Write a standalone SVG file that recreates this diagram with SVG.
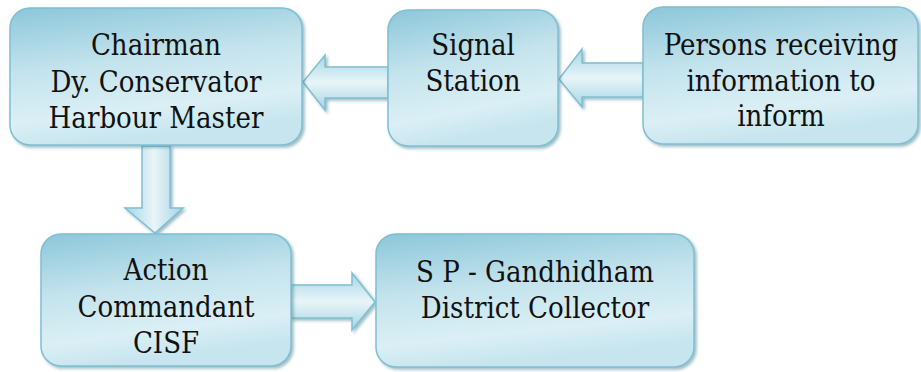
<svg xmlns="http://www.w3.org/2000/svg" width="921" height="372" viewBox="0 0 921 372">
<defs>
<linearGradient id="boxg" x1="0" y1="0" x2="0.25" y2="1">
<stop offset="0" stop-color="#8cc7d9"/>
<stop offset="0.45" stop-color="#c3e3ed"/>
<stop offset="0.8" stop-color="#dbeff5"/>
<stop offset="1" stop-color="#c6e5ee"/>
</linearGradient>
<linearGradient id="arrv" x1="0" y1="0" x2="1" y2="0">
<stop offset="0" stop-color="#a5d5e4"/>
<stop offset="0.5" stop-color="#e8f5f8"/>
<stop offset="1" stop-color="#a5d5e4"/>
</linearGradient>
<linearGradient id="arrh" x1="0" y1="0" x2="0" y2="1">
<stop offset="0" stop-color="#a5d5e4"/>
<stop offset="0.5" stop-color="#e8f5f8"/>
<stop offset="1" stop-color="#a5d5e4"/>
</linearGradient>
<filter id="sh" x="-10%" y="-10%" width="120%" height="120%">
<feGaussianBlur in="SourceAlpha" stdDeviation="1.5"/>
<feOffset dx="1.5" dy="2" result="b"/>
<feFlood flood-color="#4f8797" flood-opacity="0.55"/>
<feComposite in2="b" operator="in"/>
<feMerge><feMergeNode/><feMergeNode in="SourceGraphic"/></feMerge>
</filter>
</defs>
<style>
.box{fill:url(#boxg);stroke:#80bfd2;stroke-width:1.5;filter:url(#sh)}
.t{font-family:"DejaVu Serif Condensed","DejaVu Serif",serif;font-stretch:condensed;font-size:29px;fill:#111111;text-anchor:middle}
.av{fill:url(#arrv);stroke:#80bfd2;stroke-width:1.5;filter:url(#sh)}
.ah{fill:url(#arrh);stroke:#80bfd2;stroke-width:1.5;filter:url(#sh)}
</style>
<rect width="921" height="372" fill="#ffffff"/>
<g id="connectors">
<polygon class="ah" points="388,67 325,67 325,55 303,82 325,110 325,98 388,98"/>
<polygon class="ah" points="643,63 582,63 582,49 559,79 582,107 582,97 643,97"/>
<polygon class="av" points="142,146 142,208 125,208 155,233 183,208 170,208 170,146"/>
<polygon class="ah" points="291,285 352,285 352,273 375,302 352,330 352,318 291,318"/>
</g>
<g id="chairman">
<rect class="box" x="10" y="8" width="292" height="137" rx="20"/>
<text class="t" x="156" y="55">Chairman</text>
<text class="t" x="156" y="92">Dy. Conservator</text>
<text class="t" x="156" y="128">Harbour Master</text>
</g>
<g id="signal">
<rect class="box" x="388" y="10" width="170" height="136" rx="20"/>
<text class="t" x="473" y="55">Signal</text>
<text class="t" x="473" y="91">Station</text>
</g>
<g id="persons">
<rect class="box" x="643" y="7" width="275" height="137" rx="20"/>
<text class="t" x="781" y="55">Persons receiving</text>
<text class="t" x="781" y="91">information to</text>
<text class="t" x="781" y="126">inform</text>
</g>
<g id="action">
<rect class="box" x="41" y="234" width="250" height="132" rx="20"/>
<text class="t" x="166" y="280">Action</text>
<text class="t" x="166" y="317">Commandant</text>
<text class="t" x="166" y="353">CISF</text>
</g>
<g id="sp">
<rect class="box" x="376" y="234" width="318" height="133" rx="20"/>
<text class="t" x="535" y="282">S P - Gandhidham</text>
<text class="t" x="535" y="318">District Collector</text>
</g>
</svg>
